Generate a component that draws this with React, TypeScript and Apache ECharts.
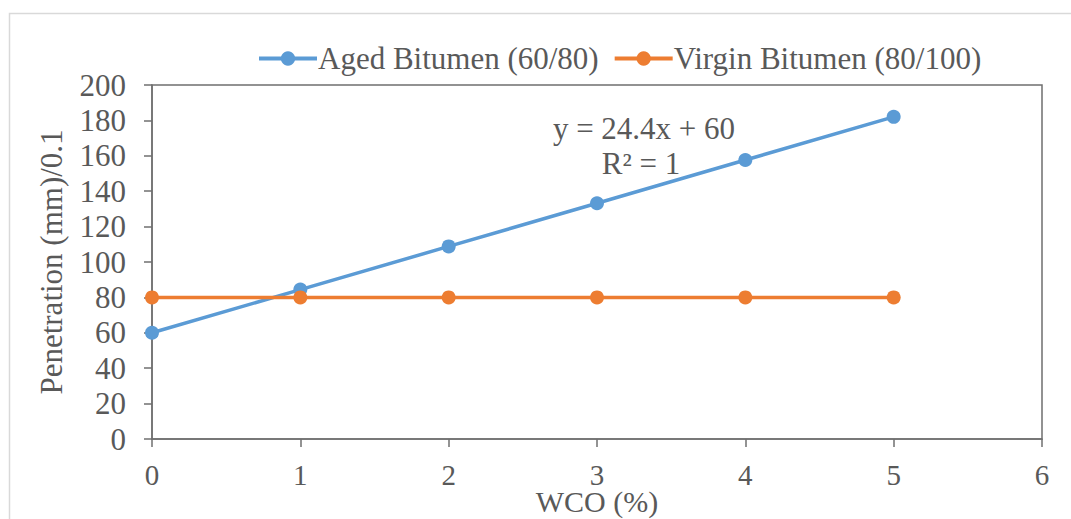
import React, { useEffect, useRef } from "react";
import * as echarts from "echarts";

const wcoPercent = [0, 1, 2, 3, 4, 5];
const agedBitumen = [60, 84.4, 108.8, 133.2, 157.6, 182];
const virginBitumen = [80, 80, 80, 80, 80, 80];
const seriesNames = ["Aged Bitumen (60/80)", "Virgin Bitumen (80/100)"];
const equationLines = ["y = 24.4x + 60", "R² = 1"];
const xAxisTitle = "WCO (%)";
const yAxisTitle = "Penetration (mm)/0.1";

const FONT = "'Liberation Serif', 'Times New Roman', serif";
const TEXT = "#595959";
const AXIS = "#6f6f6f";

export default function App() {
  const ref = useRef<HTMLDivElement>(null);
  useEffect(() => {
    document.body.style.margin = "0";
    const chart = echarts.init(ref.current!, undefined, { renderer: "svg" });
    chart.setOption({
      animation: false,
      backgroundColor: "#ffffff",
      textStyle: { fontFamily: FONT, color: TEXT },
      legend: {
        left: 252,
        top: 38,
        itemWidth: 58,
        itemHeight: 18,
        itemGap: 14,
        lineStyle: { width: 4 },
        textStyle: { fontFamily: FONT, fontSize: 31, color: TEXT, padding: [0, 0, 0, -4] },
        data: seriesNames,
      },
      grid: {
        left: 152,
        right: 29,
        top: 85,
        bottom: 80,
        outerBoundsMode: "none",
        containLabel: false,
        show: true,
        borderColor: AXIS,
        borderWidth: 1.5,
        backgroundColor: "transparent",
      },
      xAxis: {
        type: "value",
        min: 0,
        max: 6,
        interval: 1,
        name: xAxisTitle,
        nameLocation: "middle",
        nameGap: 50,
        nameMoveOverlap: false,
        nameTextStyle: { fontFamily: FONT, fontSize: 30, color: TEXT, lineHeight: 24 },
        axisLine: { show: true, lineStyle: { color: AXIS, width: 1.5 } },
        axisTick: { show: true, length: 8, lineStyle: { color: AXIS, width: 1.5 } },
        axisLabel: { fontFamily: FONT, fontSize: 29, color: TEXT, margin: 25, lineHeight: 22 },
        splitLine: { show: false },
      },
      yAxis: {
        type: "value",
        min: 0,
        max: 200,
        interval: 20,
        name: yAxisTitle,
        nameLocation: "middle",
        nameGap: 85,
        nameMoveOverlap: false,
        nameTextStyle: { fontFamily: FONT, fontSize: 31, color: TEXT },
        axisLine: { show: true, lineStyle: { color: AXIS, width: 1.5 } },
        axisTick: { show: true, length: 8, lineStyle: { color: AXIS, width: 1.5 } },
        axisLabel: { fontFamily: FONT, fontSize: 31, color: TEXT, margin: 26 },
        splitLine: { show: false },
      },
      series: [
        {
          name: seriesNames[0],
          type: "line",
          data: wcoPercent.map((x, i) => [x, agedBitumen[i]]),
          symbol: "circle",
          symbolSize: 14,
          lineStyle: { color: "#5B9BD5", width: 3.5 },
          itemStyle: { color: "#5B9BD5" },
        },
        {
          name: seriesNames[1],
          type: "line",
          data: wcoPercent.map((x, i) => [x, virginBitumen[i]]),
          symbol: "circle",
          symbolSize: 14,
          lineStyle: { color: "#ED7D31", width: 3.5 },
          itemStyle: { color: "#ED7D31" },
        },
      ],
      graphic: [
        {
          type: "rect",
          silent: true,
          shape: { x: 9.5, y: 13.5, width: 1200, height: 700 },
          style: { fill: "none", stroke: "#d9d9d9", lineWidth: 1.5 },
        },
        {
          type: "text",
          x: 644,
          y: 128,
          style: {
            text: equationLines[0],
            font: `31px ${FONT}`,
            fill: TEXT,
            align: "center",
            verticalAlign: "middle",
          },
        },
        {
          type: "text",
          x: 641,
          y: 163,
          style: {
            text: equationLines[1],
            font: `31px ${FONT}`,
            fill: TEXT,
            align: "center",
            verticalAlign: "middle",
          },
        },
      ],
    });
    return () => chart.dispose();
  }, []);
  return <div ref={ref} style={{ width: 1071, height: 519 }} />;
}
